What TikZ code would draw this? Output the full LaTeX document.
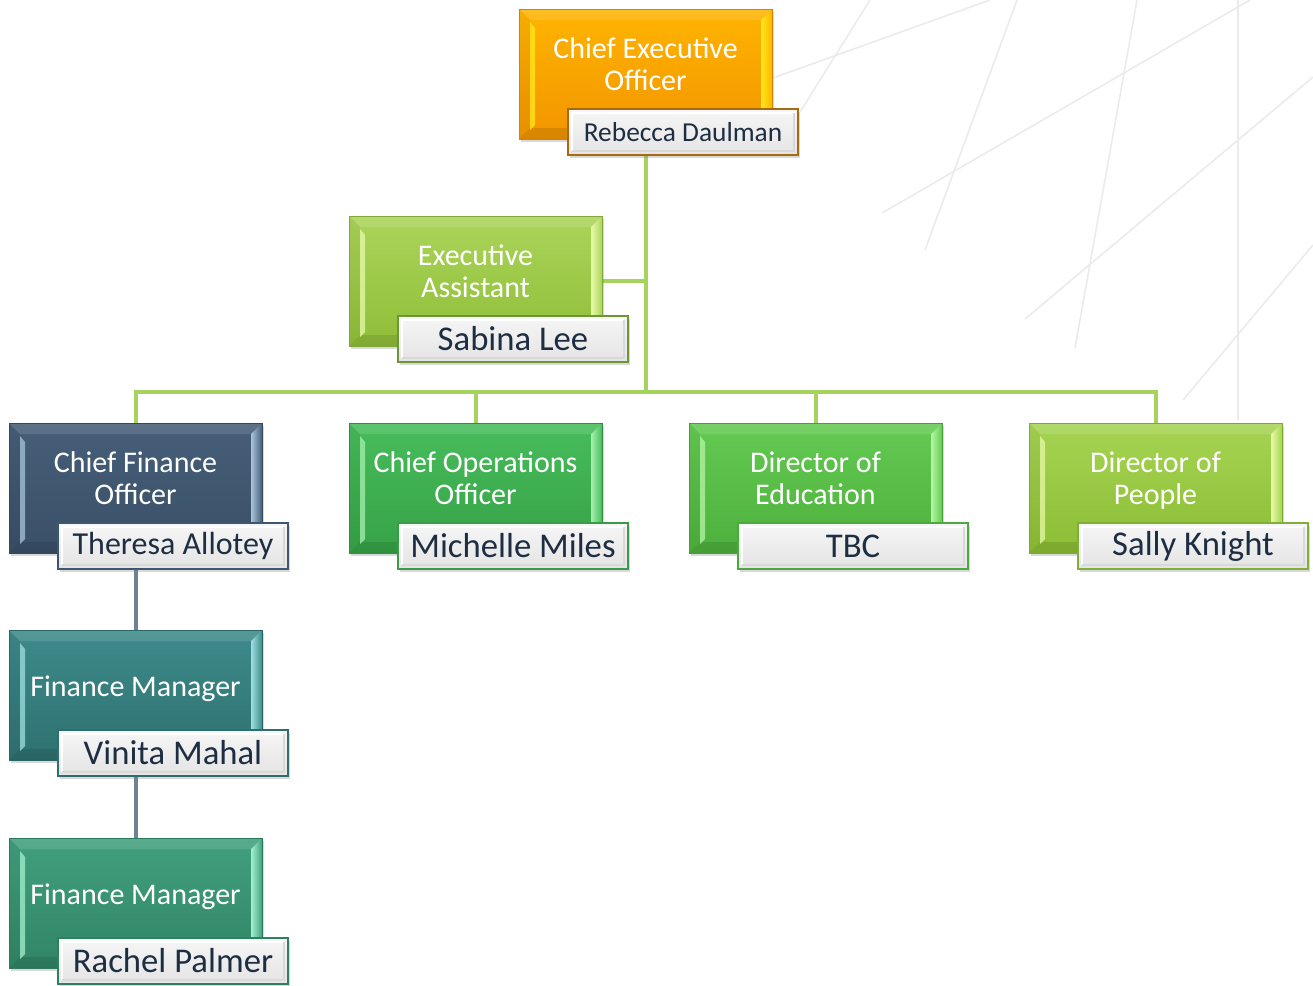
\documentclass[tikz,border=0pt]{standalone}
\usepackage{fontspec}
\setmainfont{Carlito}
\usetikzlibrary{shadows}
\pgfdeclarelayer{bg}
\pgfsetlayers{bg,main}
% colours
\definecolor{ceoT}{HTML}{FFB400}\definecolor{ceoB}{HTML}{F29500}\definecolor{ceoH}{HTML}{FFE81A}\definecolor{ceoD}{HTML}{D08400}\definecolor{ceoN}{HTML}{A86A10}
\definecolor{eaT}{HTML}{ABD45A}\definecolor{eaB}{HTML}{8FBE38}\definecolor{eaH}{HTML}{E8FBA8}\definecolor{eaD}{HTML}{7FA83A}\definecolor{eaN}{HTML}{6F9636}
\definecolor{cfoT}{HTML}{465E78}\definecolor{cfoB}{HTML}{3A5068}\definecolor{cfoH}{HTML}{A9C4DC}\definecolor{cfoD}{HTML}{34485E}\definecolor{cfoN}{HTML}{3E566E}
\definecolor{cooT}{HTML}{47BC5B}\definecolor{cooB}{HTML}{36A247}\definecolor{cooH}{HTML}{A5F0AE}\definecolor{cooD}{HTML}{2F8F40}\definecolor{cooN}{HTML}{3A9A4A}
\definecolor{doeT}{HTML}{64CA52}\definecolor{doeB}{HTML}{4DB03D}\definecolor{doeH}{HTML}{B5F5A5}\definecolor{doeD}{HTML}{45A035}\definecolor{doeN}{HTML}{4CA83F}
\definecolor{dopT}{HTML}{A6D453}\definecolor{dopB}{HTML}{8BBD34}\definecolor{dopH}{HTML}{E6FAA5}\definecolor{dopD}{HTML}{7CAA32}\definecolor{dopN}{HTML}{80AE3A}
\definecolor{fmaT}{HTML}{3E8A8A}\definecolor{fmaB}{HTML}{2F7171}\definecolor{fmaH}{HTML}{9EE0E0}\definecolor{fmaD}{HTML}{2A6666}\definecolor{fmaN}{HTML}{2E6E6E}
\definecolor{fmbT}{HTML}{41A07E}\definecolor{fmbB}{HTML}{318566}\definecolor{fmbH}{HTML}{A3F0D0}\definecolor{fmbD}{HTML}{2B7A5C}\definecolor{fmbN}{HTML}{2E8060}
\definecolor{connG}{HTML}{A6D25E}
\definecolor{connS}{HTML}{6E8296}
\definecolor{bglc}{HTML}{EBEBEB}
\definecolor{nameT}{HTML}{F6F6F6}
\definecolor{nameB}{HTML}{E4E4E4}
\definecolor{nametext}{HTML}{1E2E42}
\begin{document}
\begin{tikzpicture}[x=1pt,y=-1pt,
  mainbox/.style={draw=#1D, line width=0.8pt, top color=#1T, bottom color=#1B,
    minimum width=253pt, minimum height=130pt, inner sep=0pt,
    drop shadow={opacity=0.3, shadow xshift=2pt, shadow yshift=-3pt},
    path picture={
      \coordinate (pnw) at (path picture bounding box.north west);
      \coordinate (pne) at (path picture bounding box.north east);
      \coordinate (psw) at (path picture bounding box.south west);
      \coordinate (pse) at (path picture bounding box.south east);
      \fill[white, opacity=0.12] (pnw) -- (pne) -- ([xshift=-11pt,yshift=-11pt]pne) -- ([xshift=11pt,yshift=-11pt]pnw) -- cycle;
      \fill[black, opacity=0.10] (psw) -- (pse) -- ([xshift=-11pt,yshift=11pt]pse) -- ([xshift=11pt,yshift=11pt]psw) -- cycle;
      \fill[black, opacity=0.04] (pnw) -- (psw) -- ([xshift=11pt,yshift=11pt]psw) -- ([xshift=11pt,yshift=-11pt]pnw) -- cycle;
      \shade[left color=#1H, right color=#1T] (pne) -- (pse) -- ([xshift=-11pt,yshift=11pt]pse) -- ([xshift=-11pt,yshift=-11pt]pne) -- cycle;
      \fill[#1H, opacity=0.75] ([xshift=11pt,yshift=-13pt]pnw) -- ([xshift=16pt,yshift=-19pt]pnw) -- ([xshift=16pt,yshift=14pt]psw) -- ([xshift=11pt,yshift=9pt]psw) -- cycle;
    }},
  title/.style={text=white, align=center, font=\fontsize{30}{32}\selectfont, inner sep=0pt},
  namebox/.style={draw=#1, line width=1.6pt, top color=nameT, bottom color=nameB,
    minimum width=230pt, minimum height=46pt, inner sep=0pt, text=nametext,
    font=\fontsize{34.7}{36}\selectfont,
    drop shadow={opacity=0.3, shadow xshift=2pt, shadow yshift=-3pt},
    path picture={
      \draw[white, line width=2pt] ([xshift=4pt,yshift=4pt]path picture bounding box.south west) |- ([xshift=-4pt,yshift=-4pt]path picture bounding box.north east);
      \draw[black!15, line width=1.5pt] ([xshift=4pt,yshift=4pt]path picture bounding box.south west) -| ([xshift=-4pt,yshift=-4pt]path picture bounding box.north east);
    }},
  conn/.style={line width=4pt, color=connG},
  connS/.style={line width=4pt, color=connS},
  bgline/.style={line width=1.6pt, color=bglc}
]
\useasboundingbox (0,0) rectangle (1313,985);

% CEO
\node[mainbox=ceo] (ceo) at (645.5,74) {};
\node[title] (ceot) at ([yshift=10pt]ceo.center) {Chief Executive\\Officer};
\node[namebox=ceoN, font=\fontsize{27.4}{30}\selectfont] (ceon) at ([xshift=37.5pt,yshift=-58pt]ceo.center) {Rebecca Daulman};

% Executive Assistant
\node[mainbox=ea] (ea) at (475.5,281) {};
\node[title] (eat) at ([yshift=10pt]ea.center) {Executive\\Assistant};
\node[namebox=eaN] (ean) at ([xshift=37.5pt,yshift=-58pt]ea.center) {Sabina Lee};

% Row 2
\node[mainbox=cfo] (cfo) at (135.5,488) {};
\node[title] (cfot) at ([yshift=10pt]cfo.center) {Chief Finance\\Officer};
\node[namebox=cfoN, font=\fontsize{32}{35}\selectfont] (cfon) at ([xshift=37.5pt,yshift=-58pt]cfo.center) {Theresa Allotey};

\node[mainbox=coo] (coo) at (475.5,488) {};
\node[title] (coot) at ([yshift=10pt]coo.center) {Chief Operations\\Officer};
\node[namebox=cooN] (coon) at ([xshift=37.5pt,yshift=-58pt]coo.center) {Michelle Miles};

\node[mainbox=doe] (doe) at (815.5,488) {};
\node[title] (doet) at ([yshift=10pt]doe.center) {Director of\\Education};
\node[namebox=doeN] (doen) at ([xshift=37.5pt,yshift=-58pt]doe.center) {TBC};

\node[mainbox=dop] (dop) at (1155.5,488) {};
\node[title] (dopt) at ([yshift=7pt]dop.center) {Director of\\People};
\node[namebox=dopN] (dopn) at ([xshift=37.5pt,yshift=-58pt]dop.center) {Sally Knight};

% Finance managers
\node[mainbox=fma] (fm1) at (135.5,695) {};
\node[title] (fm1t) at ([yshift=6pt]fm1.center) {Finance Manager};
\node[namebox=fmaN] (fm1n) at ([xshift=37.5pt,yshift=-58pt]fm1.center) {Vinita Mahal};

\node[mainbox=fmb] (fm2) at (135.5,903) {};
\node[title] (fm2t) at ([yshift=6pt]fm2.center) {Finance Manager};
\node[namebox=fmbN] (fm2n) at ([xshift=37.5pt,yshift=-58pt]fm2.center) {Rachel Palmer};

\begin{pgfonlayer}{bg}
  % background decoration lines
  \draw[bgline] (870,0) -- (800,112);
  \draw[bgline] (990,0) -- (773,78);
  \draw[bgline] (1017,0) -- (925,250);
  \draw[bgline] (1137,0) -- (1075,348);
  \draw[bgline] (1250,0) -- (882,213);
  \draw[bgline] (1238,0) -- (1238,420);
  \draw[bgline] (1313,77) -- (1025,319);
  \draw[bgline] (1313,245) -- (1183,400);
  % connectors
  \coordinate (bus) at (645.5,392);
  \draw[conn] (ceo.south) -- (bus);
  \draw[conn] (ea.east) -- (ea.east -| bus);
  \draw[conn] (cfo.north) -- (cfo.north |- bus) -- (dop.north |- bus) -- (dop.north);
  \draw[conn] (coo.north |- bus) -- (coo.north);
  \draw[conn] (doe.north |- bus) -- (doe.north);
  \draw[connS] (cfo.south) -- (fm1.north);
  \draw[connS] (fm1.south) -- (fm2.north);
\end{pgfonlayer}
\end{tikzpicture}
\end{document}
